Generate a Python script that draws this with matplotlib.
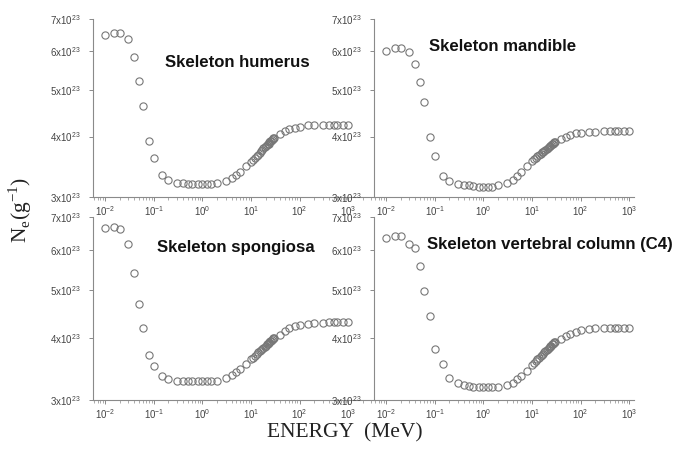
import matplotlib
matplotlib.use("Agg")
import matplotlib.pyplot as plt
from matplotlib.ticker import FixedLocator, NullLocator, LogLocator, NullFormatter

# Photon energies (MeV), shared by all four panels
energy = [0.01, 0.015, 0.02, 0.03, 0.04, 0.05, 0.06, 0.08, 0.1, 0.15, 0.2,
          0.3, 0.4, 0.5, 0.6, 0.8, 1.0, 1.25, 1.5, 2, 3, 4, 5, 6, 8,
          10, 11, 12, 13, 14, 15, 16, 17, 18, 19, 20, 21, 22, 23, 24, 25,
          26, 27, 28, 29, 30, 40, 50, 60, 80, 100, 150, 200,
          300, 400, 500, 600, 800, 1000]

# Electron density, in units of 1e23 per gram
humerus = [6.49, 6.56, 6.56, 6.35, 5.85, 5.22, 4.63, 3.92, 3.61, 3.33, 3.25,
           3.21, 3.20, 3.19, 3.19, 3.19, 3.19, 3.19, 3.19, 3.20, 3.24, 3.29,
           3.33, 3.38, 3.47,
           3.54, 3.58, 3.61, 3.65, 3.67, 3.70, 3.73, 3.75, 3.78, 3.80, 3.82,
           3.84, 3.86, 3.87, 3.89, 3.91, 3.92, 3.94, 3.95, 3.97, 3.98,
           4.04, 4.11, 4.14, 4.17, 4.19, 4.22, 4.23,
           4.23, 4.23, 4.23, 4.23, 4.23, 4.23]
mandible = [6.02, 6.09, 6.09, 5.97, 5.64, 5.19, 4.71, 4.00, 3.64, 3.32, 3.24,
            3.19, 3.17, 3.17, 3.16, 3.15, 3.15, 3.15, 3.15, 3.17, 3.20, 3.25,
            3.32, 3.38, 3.47,
            3.56, 3.59, 3.62, 3.64, 3.66, 3.69, 3.71, 3.72, 3.74, 3.76, 3.77,
            3.79, 3.80, 3.82, 3.83, 3.84, 3.86, 3.87, 3.88, 3.89, 3.90,
            3.96, 4.00, 4.03, 4.06, 4.07, 4.09, 4.09,
            4.10, 4.10, 4.11, 4.11, 4.11, 4.11]
spongiosa = [6.64, 6.69, 6.62, 6.18, 5.39, 4.67, 4.18, 3.69, 3.51, 3.35, 3.31,
             3.28, 3.27, 3.27, 3.27, 3.27, 3.27, 3.27, 3.27, 3.28, 3.32, 3.37,
             3.42, 3.47, 3.54,
             3.62, 3.65, 3.68, 3.71, 3.74, 3.76, 3.78, 3.80, 3.82, 3.84, 3.86,
             3.88, 3.89, 3.91, 3.92, 3.94, 3.95, 3.96, 3.98, 3.99, 4.00,
             4.05, 4.13, 4.18, 4.22, 4.24, 4.27, 4.28,
             4.29, 4.30, 4.30, 4.30, 4.30, 4.30]
vertebral = [6.36, 6.42, 6.42, 6.17, 6.07, 5.59, 4.97, 4.43, 3.80, 3.54, 3.32,
             3.25, 3.22, 3.20, 3.19, 3.19, 3.19, 3.19, 3.19, 3.19, 3.22, 3.25,
             3.30, 3.35, 3.43,
             3.53, 3.56, 3.60, 3.63, 3.65, 3.68, 3.70, 3.72, 3.74, 3.76, 3.78,
             3.80, 3.82, 3.83, 3.85, 3.86, 3.88, 3.89, 3.90, 3.92, 3.93,
             3.98, 4.04, 4.08, 4.11, 4.15, 4.17, 4.19,
             4.19, 4.19, 4.19, 4.19, 4.19, 4.19]

titles = ["Skeleton humerus", "Skeleton mandible",
          "Skeleton spongiosa", "Skeleton vertebral column (C4)"]
series = [humerus, mandible, spongiosa, vertebral]

y_ticks = [3, 4, 5, 6, 7]
x_ticks = [1e-2, 1e-1, 1e0, 1e1, 1e2, 1e3]
x_ticklabels = ["-2", "-1", "0", "1", "2", "3"]

W, H = 676, 457
fig = plt.figure(figsize=(W / 100, H / 100), dpi=100)

# panel boxes in pixels: left, top, right, bottom
boxes = [(93, 19, 373, 197), (374, 19, 634, 197),
         (93, 217, 373, 400), (374, 217, 634, 400)]
xmax = [10**3.51, 10**3.1, 10**3.51, 10**3.1]
title_pos = [(0.258, 0.758), (0.21, 0.848), (0.229, 0.831), (0.205, 0.852)]

grey = "#8a8a8a"
for i in range(4):
    l, t, r, b = boxes[i]
    ax = fig.add_axes([l / W, (H - b) / H, (r - l) / W, (b - t) / H])
    ax.plot(energy, [v * 1e23 for v in series[i]], linestyle="none",
            marker="o", markersize=5.2, markerfacecolor="none",
            markeredgecolor="#777777", markeredgewidth=0.8, clip_on=False)
    ax.set_xscale("log")
    ax.set_yscale("log")
    ax.set_xlim(10**-2.25, xmax[i])
    ax.set_ylim(3e23, 7e23)

    ax.yaxis.set_major_locator(FixedLocator([v * 1e23 for v in y_ticks]))
    ax.yaxis.set_minor_locator(NullLocator())
    ax.set_yticklabels([r"%dx10$^\mathregular{23}$" % v for v in y_ticks])
    ax.xaxis.set_major_locator(FixedLocator(x_ticks))
    ax.xaxis.set_minor_locator(LogLocator(base=10, subs=range(2, 10), numticks=20))
    ax.xaxis.set_minor_formatter(NullFormatter())
    ax.set_xticklabels([r"10$^\mathregular{%s}$" % s for s in x_ticklabels])

    for side in ["top", "right"]:
        ax.spines[side].set_visible(False)
    for side in ["left", "bottom"]:
        ax.spines[side].set_color(grey)
        ax.spines[side].set_linewidth(0.8)
    ax.tick_params(axis="both", which="major", length=3, width=0.7,
                   color=grey, labelcolor="#444444", labelsize=7,
                   labelfontfamily="Liberation Sans")
    ax.tick_params(axis="y", pad=6)
    ax.tick_params(axis="x", pad=2)
    ax.tick_params(axis="x", which="minor", length=1.8, width=0.5, color=grey)

    tx, ty = title_pos[i]
    ax.text(tx, ty, titles[i], transform=ax.transAxes, fontsize=12.1,
            fontweight="bold", family="Liberation Sans", color="#111111",
            va="center", ha="left", clip_on=False)

fig.text(345 / W, 1 - 433 / H, "ENERGY  (MeV)", family="Liberation Serif",
         fontsize=15.5, ha="center", va="center", color="#222222")
fig.text(20 / W, 1 - 210 / H, r"N$_\mathregular{e}$(g$^\mathregular{-1}$)",
         family="Liberation Serif", fontsize=15.5, rotation=90,
         ha="center", va="center", color="#222222")

fig.savefig("out.png", dpi=100)
